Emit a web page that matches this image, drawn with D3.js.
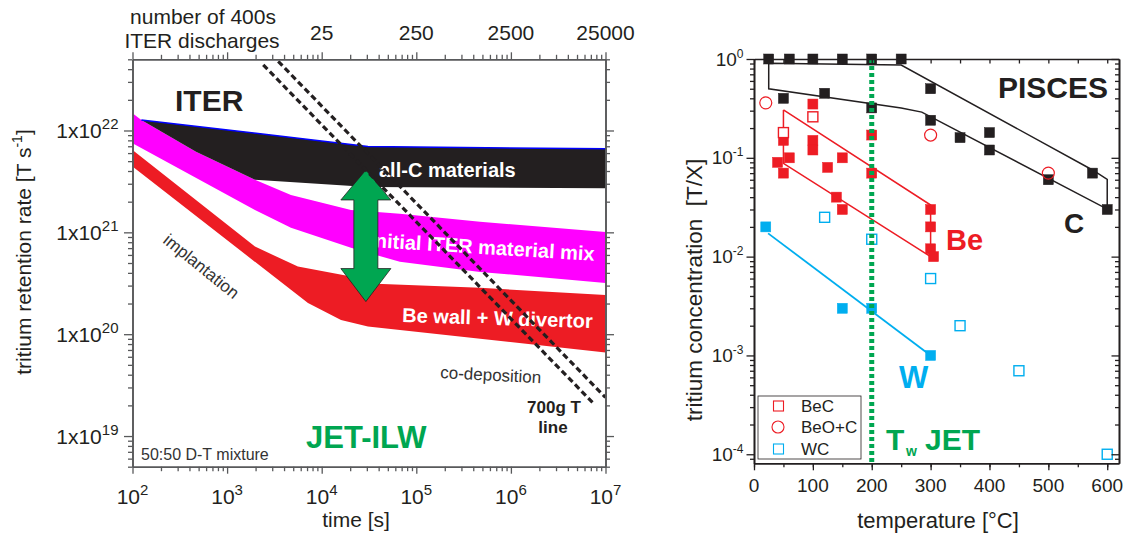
<!DOCTYPE html>
<html>
<head>
<meta charset="utf-8">
<script src="https://cdnjs.cloudflare.com/ajax/libs/d3/7.8.5/d3.min.js"></script>
<style>
  body { margin: 0; background: #fff; }
  svg { display: block; font-family: "Liberation Sans", Arial, sans-serif; }
</style>
</head>
<body>
<svg id="chart" width="1131" height="537"></svg>
<script>
"use strict";

// ---- left panel: ITER tritium retention bands, [time s, rate T/s]
var carbonUpper = [[124, 1.27e22], [3.08e4, 6.97e21], [1e7, 6.6e21]];
var carbonLower = [[124, 1.27e22], [469, 6.17e21], [1970, 3.28e21], [3.08e4, 2.78e21], [1e7, 2.71e21]];
var mixUpper = [[100, 1.48e22], [124, 1.27e22], [469, 6.17e21], [1970, 3.28e21], [4730, 2.33e21],
                [2.04e4, 1.66e21], [6.7e4, 1.52e21], [4.72e5, 1.27e21], [1e7, 1.01e21]];
var mixLower = [[100, 7.5e21], [1970, 1.66e21], [4730, 1.11e21], [2.04e4, 7.05e20],
                [6.7e4, 5.13e20], [4.72e5, 4.09e20], [1e7, 3.19e20]];
var beUpper = [[100, 6.45e21], [1970, 7.25e20], [5600, 4.61e20], [2.04e4, 3.68e20],
               [3.75e4, 3.12e20], [4.72e5, 2.85e20], [1e7, 2.43e20]];
var beLower = [[100, 4.43e21], [7160, 2.02e20], [1.6e4, 1.38e20], [3.08e4, 1.19e20], [1e7, 6.6e19]];
// 700 g T lines
var tritiumLine1 = [[2.41e3, 4.41e22], [7.43e6, 2.1e19]];
var tritiumLine2 = [[3.47e3, 4.77e22], [1e7, 2.39e19]];
// green arrow: time, top rate, bottom rate
var arrowSpan = [2.93e4, 4.1e21, 2.09e20];
var dischargeTicks = [1e4, 1e5, 1e6, 1e7];
var dischargeLabels = ["25", "250", "2500", "25000"];

// ---- right panel: PISCES tritium concentration, [temperature C, T/X]
var carbonFilled = [[25, 1], [60, 1], [100, 1], [150, 1], [200, 1], [250, 1], [50, 0.4], [120, 0.45],
                    [200, 0.32], [300, 0.5], [300, 0.24], [350, 0.16], [400, 0.18], [400, 0.12],
                    [500, 0.06], [575, 0.07], [600, 0.03]];
var beFilled = [[100, 0.35], [200, 0.17], [50, 0.15], [40, 0.09], [60, 0.1], [50, 0.07], [100, 0.15],
                [100, 0.12], [125, 0.08], [150, 0.1], [140, 0.04], [150, 0.03], [200, 0.07],
                [300, 0.03], [300, 0.02], [300, 0.012], [305, 0.01]];
var beCOpen = [[50, 0.18], [100, 0.26]];
var beOCOpen = [[20, 0.36], [300, 0.17], [500, 0.07]];
var wFilled = [[20, 0.02], [150, 0.003], [200, 0.003], [300, 0.001]];
var wcOpen = [[120, 0.025], [200, 0.015], [300, 0.006], [350, 0.002], [450, 0.0007], [600, 0.0001]];
var carbonFit = [[25, 0.905], [250, 0.87], [575, 0.0753], [600, 0.0606], [600, 0.0303],
                 [285, 0.29], [250, 0.32], [25, 0.5], [25, 0.905]];
var beFit = [[50, 0.305], [300, 0.0333], [300, 0.01], [50, 0.088], [50, 0.305]];
var wFit = [[24, 0.0172], [300, 0.001]];
var jetWallTemp = 200;
var tempTicks = [0, 100, 200, 300, 400, 500, 600];
var legendItems = ["BeC", "BeO+C", "WC"];

var INK = "#231f20", RED = "#ed1c24", BLUE = "#00aeef", GREEN = "#00a651", MAGENTA = "#ff00ff";

var svg = d3.select("#chart");

var xL = d3.scaleLog().domain([1e2, 1e7]).range([132.5, 605.5]);
var yL = d3.scaleLog().domain([5e18, 5e22]).range([466.7, 59.3]);
var xR = d3.scaleLinear().domain([0, 620]).range([754, 1119]);
var yR = d3.scaleLog().domain([8.1e-5, 1]).range([463.3, 59]);

function logTickValues(d) {
  var lo = Math.min(d[0], d[1]), hi = Math.max(d[0], d[1]), out = [];
  for (var e = Math.floor(Math.log10(lo)); e <= Math.ceil(Math.log10(hi)); e++) {
    for (var k = 1; k < 10; k++) {
      var v = k * Math.pow(10, e);
      if (v >= lo * 0.9999 && v <= hi * 1.0001) out.push(v);
    }
  }
  return out;
}
function isMajor(v) { var l = Math.log10(v); return Math.abs(l - Math.round(l)) < 1e-6; }

function tickAxis(axis, values, size, tx, ty, color) {
  var g = svg.append("g").attr("transform", "translate(" + tx + "," + ty + ")");
  g.call(axis.tickValues(values).tickSize(size).tickSizeOuter(0).tickFormat(""));
  g.selectAll(".tick line").attr("stroke", color).attr("stroke-width", 1.3);
  g.select(".domain").attr("stroke", color).attr("stroke-width", 1.6);
  g.selectAll("text").remove();
  return g;
}

function supLabel(x, y, base, sup, anchor, size, supSize, rise) {
  var t = svg.append("text").attr("x", x).attr("y", y).attr("text-anchor", anchor)
    .attr("font-size", size).attr("fill", INK);
  t.append("tspan").text(base);
  t.append("tspan").attr("font-size", supSize).attr("dy", -rise).text(sup);
  return t;
}

// =================== left panel ===================
var lineL = d3.line().x(function(d) { return xL(d[0]); }).y(function(d) { return yL(d[1]); });
function band(upper, lower) { return lineL(upper.concat(lower.slice().reverse())) + "Z"; }

svg.append("path").attr("d", band(mixUpper, mixLower)).attr("fill", MAGENTA);
svg.append("path").attr("d", band(carbonUpper, carbonLower)).attr("fill", INK);
svg.append("path").attr("d", band(beUpper, beLower)).attr("fill", RED);
svg.append("path").attr("d", lineL(carbonUpper)).attr("fill", "none")
  .attr("stroke", "#0000ff").attr("stroke-width", 1.5);

// band labels
svg.append("text").attr("x", 379).attr("y", 177).attr("font-size", 20).attr("font-weight", "bold")
  .attr("fill", "#fff").text("all-C materials");
svg.append("text").attr("transform", "translate(369,247) rotate(3.5)").attr("font-size", 20)
  .attr("font-weight", "bold").attr("fill", "#fff").text("initial ITER material mix");
svg.append("text").attr("transform", "translate(402,322) rotate(1.8)").attr("font-size", 20)
  .attr("font-weight", "bold").attr("fill", "#fff").text("Be wall + W divertor");

// green double arrow
(function() {
  var cx = xL(arrowSpan[0]), top = yL(arrowSpan[1]), bot = yL(arrowSpan[2]);
  var hw = 25, sw = 12, h1 = 30, h2 = 33;
  var pts = [[cx, top], [cx + hw, top + h1], [cx + sw, top + h1], [cx + sw, bot - h2], [cx + hw, bot - h2],
             [cx, bot], [cx - hw, bot - h2], [cx - sw, bot - h2], [cx - sw, top + h1], [cx - hw, top + h1]];
  svg.append("path").attr("d", d3.line()(pts) + "Z").attr("fill", GREEN)
    .attr("stroke", INK).attr("stroke-width", 0.8);
})();

// 700 g T lines
[tritiumLine1, tritiumLine2].forEach(function(l) {
  svg.append("path").attr("d", lineL(l)).attr("fill", "none").attr("stroke", INK)
    .attr("stroke-width", 3.2).attr("stroke-dasharray", "6,3.5");
});

// left panel axes
var tMinor = logTickValues(xL.domain()).filter(function(v) { return !isMajor(v); });
var tMajor = logTickValues(xL.domain()).filter(isMajor);
var rMinor = logTickValues(yL.domain()).filter(function(v) { return !isMajor(v); });
var rMajor = logTickValues(yL.domain()).filter(isMajor);
var axL = "#58595b";
tickAxis(d3.axisBottom(xL), tMinor, 4.5, 0, yL.range()[0], axL);
tickAxis(d3.axisBottom(xL), tMajor, 7, 0, yL.range()[0], axL);
tickAxis(d3.axisTop(xL), tMinor, 4.5, 0, yL.range()[1], axL);
tickAxis(d3.axisTop(xL), tMajor, 7, 0, yL.range()[1], axL);
tickAxis(d3.axisLeft(yL), rMinor, 4.5, xL.range()[0], 0, axL);
tickAxis(d3.axisLeft(yL), rMajor, 8.5, xL.range()[0], 0, axL);
tickAxis(d3.axisRight(yL), rMinor, 4.5, xL.range()[1], 0, axL);
tickAxis(d3.axisRight(yL), rMajor, 8.5, xL.range()[1], 0, axL);

tMajor.forEach(function(v) {
  supLabel(xL(v), 504, "10", String(Math.round(Math.log10(v))), "middle", 21, 15, 9);
});
rMajor.forEach(function(v) {
  supLabel(118.5, yL(v) + 7.5, "1x10", String(Math.round(Math.log10(v))), "end", 21, 15, 9);
});
dischargeTicks.forEach(function(v, i) {
  svg.append("text").attr("x", xL(v)).attr("y", 40).attr("text-anchor", "middle")
    .attr("font-size", 21).attr("fill", INK).text(dischargeLabels[i]);
});
svg.append("text").attr("x", 203).attr("y", 24).attr("text-anchor", "middle").attr("font-size", 21)
  .attr("fill", INK).text("number of 400s");
svg.append("text").attr("x", 202).attr("y", 48).attr("text-anchor", "middle").attr("font-size", 21)
  .attr("fill", INK).text("ITER discharges");
svg.append("text").attr("x", 356).attr("y", 527).attr("text-anchor", "middle").attr("font-size", 21)
  .attr("fill", INK).text("time [s]");
(function() {
  var t = svg.append("text").attr("transform", "translate(31,252) rotate(-90)")
    .attr("text-anchor", "middle").attr("font-size", 21).attr("fill", INK);
  t.append("tspan").text("tritium retention rate [T s");
  t.append("tspan").attr("font-size", 14).attr("dy", -9).text("-1");
  t.append("tspan").attr("dy", 9).text("]");
})();

// annotations
svg.append("text").attr("x", 175).attr("y", 111).attr("font-size", 30).attr("font-weight", "bold")
  .attr("fill", INK).text("ITER");
svg.append("text").attr("transform", "translate(162,242) rotate(39)").attr("font-size", 17)
  .attr("fill", "#333").text("implantation");
svg.append("text").attr("transform", "translate(440,378) rotate(3)").attr("font-size", 17)
  .attr("fill", "#333").text("co-deposition");
svg.append("text").attr("x", 554).attr("y", 413).attr("text-anchor", "middle").attr("font-size", 17)
  .attr("font-weight", "bold").attr("fill", INK).text("700g T");
svg.append("text").attr("x", 553).attr("y", 433).attr("text-anchor", "middle").attr("font-size", 17)
  .attr("font-weight", "bold").attr("fill", INK).text("line");
svg.append("text").attr("x", 306).attr("y", 448).attr("font-size", 31).attr("font-weight", "bold")
  .attr("fill", GREEN).text("JET-ILW");
svg.append("text").attr("x", 141).attr("y", 460).attr("font-size", 16)
  .attr("fill", "#333").text("50:50 D-T mixture");

// =================== right panel ===================
var lineR = d3.line().x(function(d) { return xR(d[0]); }).y(function(d) { return yR(d[1]); });
svg.append("path").attr("d", lineR(carbonFit)).attr("fill", "none").attr("stroke", INK).attr("stroke-width", 1.5);
svg.append("path").attr("d", lineR(beFit)).attr("fill", "none").attr("stroke", RED).attr("stroke-width", 1.5);
svg.append("path").attr("d", lineR(wFit)).attr("fill", "none").attr("stroke", BLUE).attr("stroke-width", 1.8);

var SQ = 10;
function squares(data, color, filled) {
  svg.append("g").selectAll("rect").data(data).enter().append("rect")
    .attr("x", function(d) { return xR(d[0]) - SQ / 2; })
    .attr("y", function(d) { return yR(d[1]) - SQ / 2; })
    .attr("width", SQ).attr("height", SQ)
    .attr("fill", filled ? color : "#fff")
    .attr("stroke", color).attr("stroke-width", filled ? 0.5 : 1.4);
}
squares(carbonFilled, INK, true);
squares(beFilled, RED, true);
squares(wFilled, BLUE, true);
squares(beCOpen, RED, false);
squares(wcOpen, BLUE, false);
svg.append("g").selectAll("circle").data(beOCOpen).enter().append("circle")
  .attr("cx", function(d) { return xR(d[0]); }).attr("cy", function(d) { return yR(d[1]); })
  .attr("r", 6).attr("fill", "none").attr("stroke", RED).attr("stroke-width", 1.2);

// JET wall temperature line
svg.append("line").attr("x1", xR(jetWallTemp)).attr("x2", xR(jetWallTemp))
  .attr("y1", yR.range()[1]).attr("y2", yR.range()[0])
  .attr("stroke", GREEN).attr("stroke-width", 5).attr("stroke-dasharray", "4,3");

// right panel axes
var tempMinor = d3.range(0, 601, 50);
var cMinor = logTickValues(yR.domain()).filter(function(v) { return !isMajor(v); });
var cMajor = logTickValues(yR.domain()).filter(isMajor);
tickAxis(d3.axisBottom(xR), tempMinor, 4, 0, yR.range()[0], INK);
tickAxis(d3.axisBottom(xR), tempTicks, 7, 0, yR.range()[0], INK);
tickAxis(d3.axisBottom(xR), tempMinor, 4.5, 0, yR.range()[1], INK);
tickAxis(d3.axisLeft(yR), cMinor, 4, xR.range()[0], 0, INK);
tickAxis(d3.axisLeft(yR), cMajor, 7.5, xR.range()[0], 0, INK);
tickAxis(d3.axisLeft(yR), cMinor, 4, xR.range()[1], 0, INK);
tickAxis(d3.axisLeft(yR), cMajor, 7.5, xR.range()[1], 0, INK);

tempTicks.forEach(function(v) {
  svg.append("text").attr("x", xR(v)).attr("y", 492).attr("text-anchor", "middle")
    .attr("font-size", 19).attr("fill", INK).text(v);
});
cMajor.forEach(function(v) {
  supLabel(743.5, yR(v) + 6.5, "10", String(Math.round(Math.log10(v))), "end", 19, 12, 8);
});
svg.append("text").attr("x", 938).attr("y", 528).attr("text-anchor", "middle").attr("font-size", 22)
  .attr("fill", INK).text("temperature [°C]");
svg.append("text").attr("transform", "translate(702,290) rotate(-90)").attr("text-anchor", "middle")
  .attr("font-size", 22.5).attr("fill", INK).style("white-space", "pre")
  .text("tritium concentration  [T/X]");

// labels in the plot
svg.append("text").attr("x", 1108).attr("y", 98).attr("text-anchor", "end").attr("font-size", 30)
  .attr("font-weight", "bold").attr("fill", INK).text("PISCES");
svg.append("text").attr("x", 1064).attr("y", 233).attr("font-size", 28).attr("font-weight", "bold")
  .attr("fill", INK).text("C");
svg.append("text").attr("x", 946).attr("y", 250).attr("font-size", 29).attr("font-weight", "bold")
  .attr("fill", RED).text("Be");
svg.append("text").attr("x", 899).attr("y", 388).attr("font-size", 31).attr("font-weight", "bold")
  .attr("fill", BLUE).text("W");
svg.append("text").attr("x", 886).attr("y", 450).attr("font-size", 30).attr("font-weight", "bold")
  .attr("fill", GREEN).text("T");
svg.append("text").attr("x", 906).attr("y", 456).attr("font-size", 14).attr("font-weight", "bold")
  .attr("fill", GREEN).text("w");
svg.append("text").attr("x", 925).attr("y", 450).attr("font-size", 30).attr("font-weight", "bold")
  .attr("fill", GREEN).text("JET");

// legend
var leg = svg.append("g").attr("transform", "translate(758,396)");
leg.append("rect").attr("width", 103).attr("height", 63).attr("fill", "#fff")
  .attr("stroke", INK).attr("stroke-width", 0.8);
var legRows = [10, 31, 53];
legendItems.forEach(function(name, i) {
  var cy = legRows[i], color = i < 2 ? RED : BLUE;
  if (i === 1) {
    leg.append("circle").attr("cx", 20).attr("cy", cy).attr("r", 6)
      .attr("fill", "none").attr("stroke", color).attr("stroke-width", 1.1);
  } else {
    leg.append("rect").attr("x", 15.5).attr("y", cy - 5).attr("width", 10).attr("height", 10)
      .attr("fill", "none").attr("stroke", color).attr("stroke-width", 1.1);
  }
  leg.append("text").attr("x", 43).attr("y", cy + 6).attr("font-size", 17).attr("fill", INK).text(name);
});
</script>
</body>
</html>
